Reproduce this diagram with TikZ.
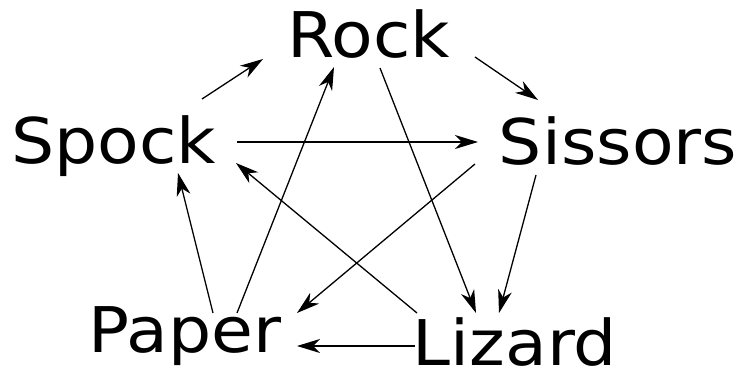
\documentclass[tikz,border=0pt]{standalone}
\usepackage{fontspec}
\setmainfont{DejaVu Sans}
\usetikzlibrary{arrows.meta}
\begin{document}
\begin{tikzpicture}[x=1pt,y=1pt,
  lbl/.style={anchor=base,inner sep=0pt,font=\fontsize{63}{70}\selectfont},
  arr/.style={line width=1.3pt,-{Stealth[length=23pt,width=14pt,inset=7pt]}}]
\useasboundingbox (0,0) rectangle (742,370);
\newcommand{\wide}[1]{\scalebox{1.08}[1]{#1}}
\node[lbl] (Rock) at (368.5,312) {\wide{Rock}};
\node[lbl] (Spock) at (113.5,206) {\wide{Spock}};
\node[lbl] (Sissors) at (618,205) {\wide{Sissors}};
\node[lbl] (Paper) at (185,18) {\wide{Paper}};
\node[lbl] (Lizard) at (515,5) {\wide{Lizard}};
% Spock -> Rock
\draw[arr] ([shift={(88.5,65)}]Spock.base) -- ([shift={(-105.5,-1)}]Rock.base);
% Paper -> Rock
\draw[arr] ([shift={(52,39)}]Paper.base) -- ([shift={(-34.5,-9)}]Rock.base);
% Rock -> Lizard
\draw[arr] ([shift={(11.5,-10)}]Rock.base) -- ([shift={(-39,52)}]Lizard.base);
% Rock -> Sissors
\draw[arr] ([shift={(106.5,1)}]Rock.base) -- ([shift={(-80,65)}]Sissors.base);
% Spock -> Sissors
\draw[arr] ([shift={(123.5,22)}]Spock.base) -- ([shift={(-140,23)}]Sissors.base);
% Sissors -> Paper
\draw[arr] ([shift={(-143,1)}]Sissors.base) -- ([shift={(112,39)}]Paper.base);
% Sissors -> Lizard
\draw[arr] ([shift={(-82,-10)}]Sissors.base) -- ([shift={(-16,52)}]Lizard.base);
% Lizard -> Spock
\draw[arr] ([shift={(-98,52)}]Lizard.base) -- ([shift={(122.5,1)}]Spock.base);
% Lizard -> Paper
\draw[arr] ([shift={(-100,19)}]Lizard.base) -- ([shift={(112,6)}]Paper.base);
% Paper -> Spock
\draw[arr] ([shift={(28,39)}]Paper.base) -- ([shift={(64.5,-9)}]Spock.base);
\end{tikzpicture}
\end{document}
